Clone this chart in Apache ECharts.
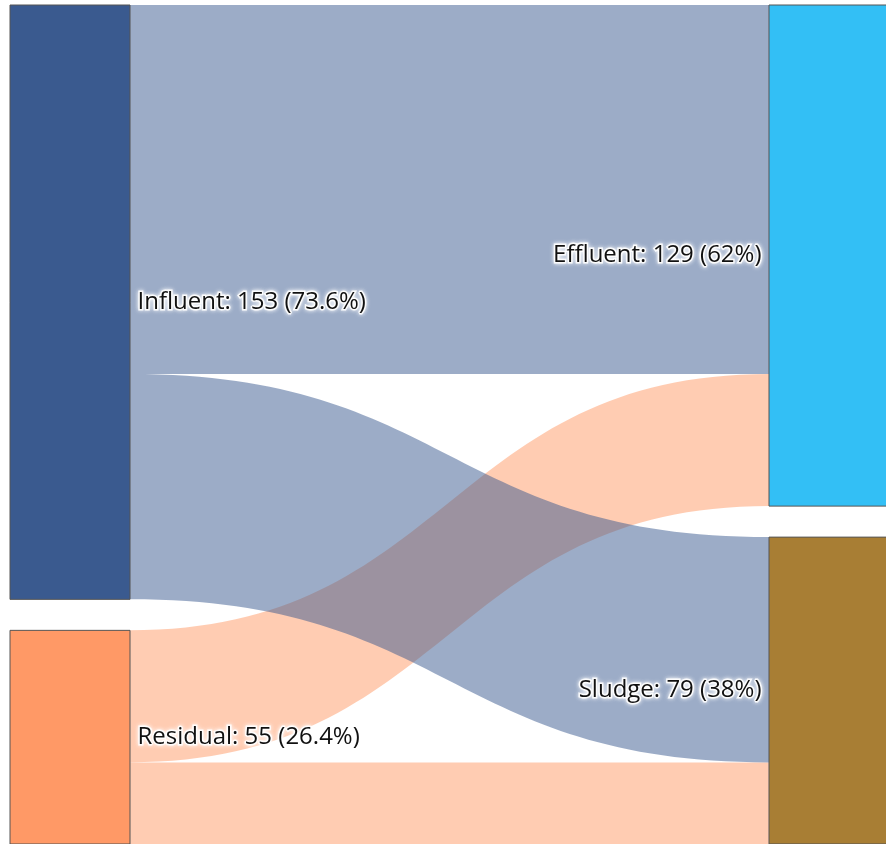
<!DOCTYPE html>
<html>
<head>
<meta charset="utf-8">
<script src="https://cdn.jsdelivr.net/npm/echarts@6/dist/echarts.min.js"></script>
<style>
  html, body { margin: 0; padding: 0; background: #fff; }
  #chart { width: 886px; height: 844px; }
</style>
</head>
<body>
<div id="chart"></div>
<script>
// nodes
var nodeNames = ['Influent', 'Residual', 'Effluent', 'Sludge']
var nodeColors = ['#3a5a8f', '#ff9966', '#33bff5', '#a87e34']
// flows (residual first so the influent bands are drawn on top)
var linkSources = ['Residual', 'Residual', 'Influent', 'Influent']
var linkTargets = ['Effluent', 'Sludge', 'Effluent', 'Sludge']
var linkValues = [34, 21, 95, 58]

var total = 153 + 55

var chart = echarts.init(document.getElementById('chart'))

var option = {
  animation: false,
  series: [
    {
      type: 'sankey',
      left: 10,
      top: 5,
      right: -3,
      bottom: 0,
      nodeWidth: 120,
      nodeGap: 31,
      layoutIterations: 0,
      nodeAlign: 'justify',
      data: nodeNames.map(function (n, i) {
        return {
          name: n,
          itemStyle: { color: nodeColors[i], borderColor: '#555', borderWidth: 1 },
          label: { position: i < 2 ? 'right' : 'left' }
        }
      }),
      links: linkValues.map(function (v, i) {
        return { source: linkSources[i], target: linkTargets[i], value: v }
      }),
      lineStyle: { color: 'source', opacity: 0.5, curveness: 0.5 },
      label: {
        fontFamily: 'Open Sans',
        fontSize: 24,
        color: '#111',
        textBorderColor: 'rgba(255,255,255,0.9)',
        textBorderWidth: 3,
        textShadowColor: '#fff',
        textShadowBlur: 4,
        distance: 7,
        formatter: function (p) {
          var pct = Math.round(p.value / total * 1000) / 10
          return p.name + ': ' + p.value + ' (' + pct + '%)'
        }
      },
      emphasis: { disabled: true }
    }
  ]
}

chart.setOption(option)
</script>
</body>
</html>
